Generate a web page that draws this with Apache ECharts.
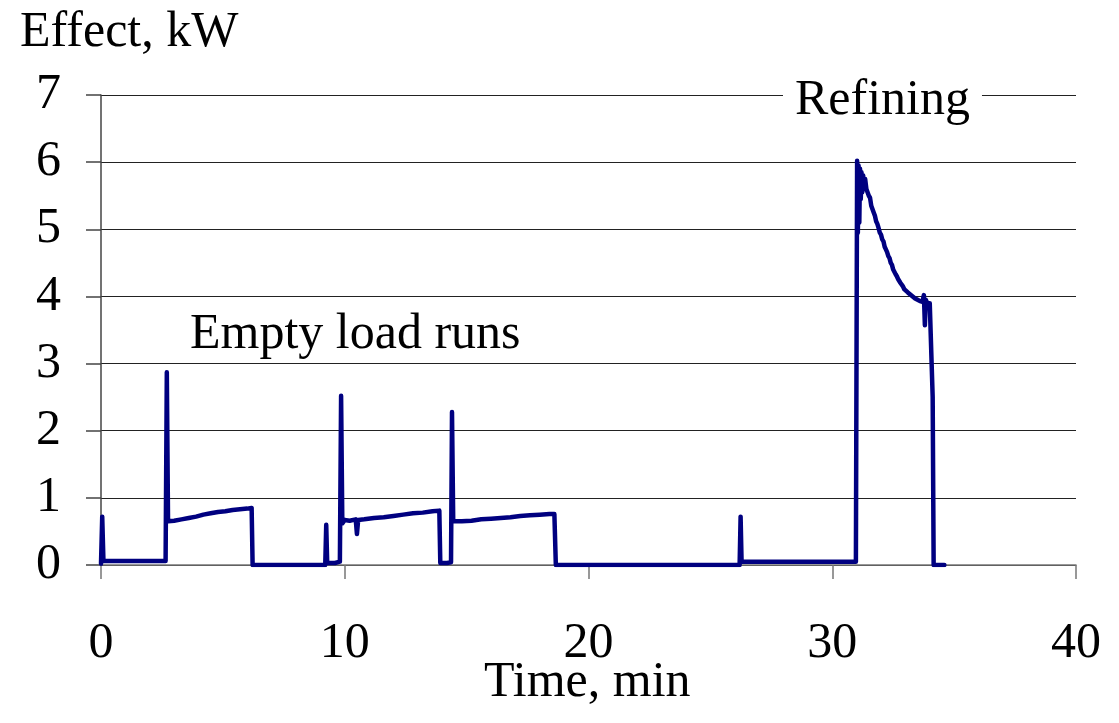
<!DOCTYPE html>
<html>
<head>
<meta charset="utf-8">
<script src="https://cdn.jsdelivr.net/npm/echarts@6/dist/echarts.min.js"></script>
<style>html,body{margin:0;padding:0;background:#fff}#c{width:1119px;height:723px}</style>
</head>
<body>
<div id="c"></div>
<script>
// Time (min)
const timeMin = [0,0.05,0.1,0.5,1,1.5,2,2.65,2.7,2.75,3.0,3.3,3.6,3.9,4.2,4.5,4.8,5.1,5.4,5.7,6.0,6.18,6.22,7,8,9.2,9.24,9.28,9.6,9.8,9.85,9.9,10.0,10.2,10.45,10.5,10.55,10.8,11.2,11.6,12.0,12.4,12.8,13.2,13.6,13.88,13.92,14.2,14.36,14.4,14.45,14.8,15.2,15.6,16.0,16.4,16.8,17.2,17.6,18.0,18.4,18.6,18.66,20,22,24,26.2,26.24,26.28,27,28,29,30,30.97,31.02,31.05,31.08,31.11,31.14,31.17,31.2,31.23,31.27,31.3,31.35,31.4,31.45,31.5,31.55,31.6,31.65,31.7,31.75,31.8,31.85,31.9,31.95,32.0,32.05,32.1,32.15,32.2,32.25,32.3,32.35,32.4,32.45,32.5,32.55,32.6,32.65,32.7,32.75,32.8,32.85,32.9,32.95,33.0,33.1,33.2,33.3,33.4,33.5,33.6,33.7,33.76,33.8,33.84,33.9,34.0,34.08,34.12,34.16,34.6];
// Effect (kW)
const effectKW = [0.02,0.72,0.06,0.06,0.06,0.06,0.06,0.06,2.87,0.65,0.66,0.68,0.7,0.72,0.75,0.77,0.79,0.8,0.82,0.83,0.84,0.85,0.0,0,0,0,0.6,0.03,0.03,0.05,2.52,0.62,0.67,0.66,0.68,0.46,0.67,0.68,0.7,0.71,0.73,0.75,0.77,0.78,0.8,0.81,0.03,0.03,0.04,2.28,0.65,0.65,0.66,0.68,0.69,0.7,0.71,0.73,0.74,0.75,0.76,0.76,0.0,0,0,0,0,0.72,0.05,0.05,0.05,0.05,0.05,0.05,6.02,4.95,5.95,5.1,5.9,5.45,5.85,5.55,5.8,5.6,5.75,5.6,5.62,5.5,5.47,5.35,5.33,5.25,5.2,5.12,5.08,5.02,4.95,4.92,4.85,4.82,4.74,4.7,4.66,4.6,4.57,4.5,4.47,4.4,4.38,4.33,4.3,4.26,4.24,4.2,4.18,4.15,4.11,4.1,4.06,4.03,4.0,3.97,3.95,3.93,3.92,4.02,3.57,3.95,3.9,3.9,3.88,2.5,0,0];
const xTicks = [0,10,20,30,40];
const yTicks = [0,1,2,3,4,5,6,7];

const font = 'Liberation Serif';
const chart = echarts.init(document.getElementById('c'), null, {renderer:'canvas'});
chart.setOption({
  animation:false,
  backgroundColor:'#fff',
  grid:{left:101,right:43,top:95,bottom:158,containLabel:false},
  xAxis:{type:'value',min:xTicks[0],max:xTicks[xTicks.length-1],interval:10,
    axisLine:{show:true,onZero:false,lineStyle:{color:'#777',width:1.5}},
    axisTick:{show:true,length:14,lineStyle:{color:'#777',width:1.5}},
    axisLabel:{fontFamily:font,fontSize:50,color:'#000',margin:54},
    splitLine:{show:false}},
  yAxis:{type:'value',min:yTicks[0],max:yTicks[yTicks.length-1],interval:1,
    axisLine:{show:true,lineStyle:{color:'#444',width:1.5}},
    axisTick:{show:true,length:15,lineStyle:{color:'#444',width:1.5}},
    axisLabel:{fontFamily:font,fontSize:50,color:'#000',margin:40},
    splitLine:{show:true,lineStyle:{color:'#222',width:1.2}}},
  series:[{type:'line',data:timeMin.map((t,i)=>[t,effectKW[i]]),showSymbol:false,
    lineStyle:{color:'#000080',width:4.5,join:'round',cap:'round'},z:5}],
  graphic:[
    {type:'text',left:20,top:8,style:{text:'Effect, kW',font:'50px "Liberation Serif"',fill:'#000'}},
    {type:'text',left:484,top:658,style:{text:'Time, min',font:'50px "Liberation Serif"',fill:'#000'}},
    {type:'text',left:190,top:310,style:{text:'Empty load runs',font:'50px "Liberation Serif"',fill:'#000'}},
    {type:'text',left:783,top:76,z:10,style:{text:'Refining',font:'50px "Liberation Serif"',fill:'#000',backgroundColor:'#fff',padding:[0,12,0,12]}}
  ]
});
</script>
</body>
</html>
